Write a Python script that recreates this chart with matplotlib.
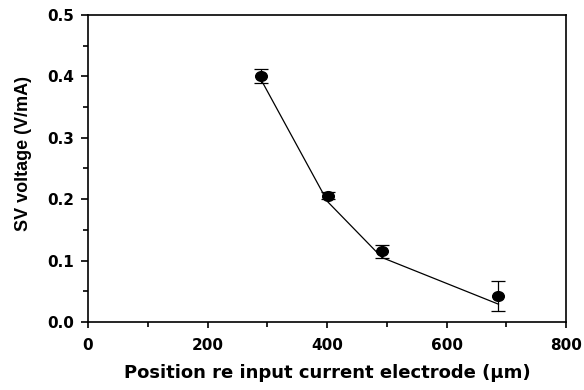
import matplotlib
matplotlib.use('Agg')
import matplotlib.pyplot as plt
from matplotlib.ticker import MultipleLocator
from matplotlib.path import Path
from matplotlib.transforms import Affine2D

# data
position = [290, 401, 492, 687]            # um
sv_voltage = [0.401, 0.206, 0.115, 0.042]  # V/mA
sv_error = [0.011, 0.005, 0.011, 0.024]
line_voltage = [0.394, 0.196, 0.105, 0.029]  # connecting line sits slightly below markers

# the original image is a bit stretched sideways: DejaVu Bold is wider than Arial, close enough
plt.rcParams['font.family'] = ['DejaVu Sans']
plt.rcParams['font.weight'] = 'bold'

# slightly wide ellipse marker
oval = Path.unit_circle().transformed(Affine2D().scale(1.2, 1.0))

fig = plt.figure(figsize=(5.84, 3.90), dpi=100)
ax = fig.add_axes([88 / 584, 1 - 322 / 390, (566 - 88) / 584, (322 - 15) / 390])

ax.plot(position, line_voltage, color='black', lw=0.9)
ax.errorbar(position, sv_voltage, yerr=sv_error, fmt='none', ecolor='black',
            elinewidth=0.9, capsize=4.8, capthick=0.9)
ax.plot(position, sv_voltage, linestyle='none', marker=oval, markersize=8.4, color='black')

ax.set_xlim(0, 800)
ax.set_ylim(0, 0.5)
ax.xaxis.set_major_locator(MultipleLocator(200))
ax.xaxis.set_minor_locator(MultipleLocator(100))
ax.yaxis.set_major_locator(MultipleLocator(0.1))
ax.yaxis.set_minor_locator(MultipleLocator(0.05))
ax.yaxis.set_major_formatter(plt.FormatStrFormatter('%.1f'))

ax.tick_params(which='both', direction='out', top=False, right=False, width=1.2, labelsize=11)
ax.tick_params(axis='y', which='major', length=5, pad=5)
ax.tick_params(axis='y', which='minor', length=3.8)
ax.tick_params(axis='x', which='major', length=4.5, pad=7)
ax.tick_params(axis='x', which='minor', length=3.3)
for lbl in ax.get_xticklabels() + ax.get_yticklabels():
    lbl.set_fontweight('bold')
for s in ax.spines.values():
    s.set_linewidth(1.2)

ax.set_xlabel('Position re input current electrode (μm)', fontsize=13, fontweight='bold')
ax.xaxis.set_label_coords(0.5, -0.138)
ax.set_ylabel('SV voltage (V/mA)', fontsize=13, fontweight='bold',
              family=['Liberation Sans', 'DejaVu Sans'])
ax.yaxis.set_label_coords(-0.118, 0.549)

plt.savefig('out.png', dpi=100)
